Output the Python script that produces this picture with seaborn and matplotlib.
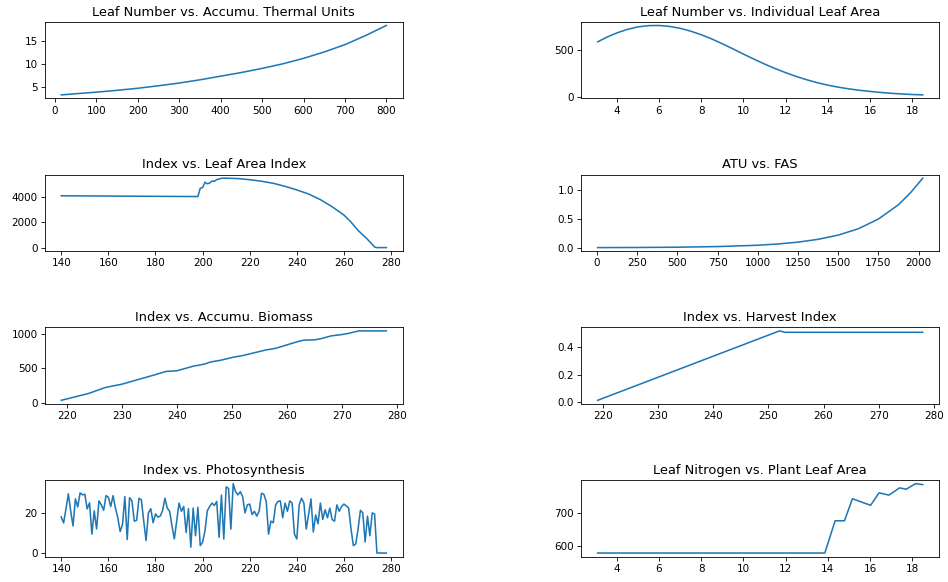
import matplotlib
matplotlib.use("Agg")
import matplotlib.pyplot as plt
import seaborn as sns

# Panel 1: Leaf Number vs. Accumu. Thermal Units
tu = [15, 50, 100, 150, 200, 250, 300, 350, 400, 450, 500, 550, 600, 650, 700, 750, 800]
leaf_number = [3.2, 3.45, 3.8, 4.2, 4.65, 5.2, 5.8, 6.5, 7.3, 8.1, 9.0, 10.0, 11.2, 12.6, 14.2, 16.2, 18.4]

# Panel 2: Leaf Number vs. Individual Leaf Area
ln2 = [3.1, 3.5, 4, 4.5, 5, 5.5, 6, 6.5, 7, 7.5, 8, 8.5, 9, 9.5, 10, 10.5,
       11, 11.5, 12, 12.5, 13, 13.5, 14, 14.5, 15, 15.5, 16, 16.5, 17, 17.5, 18, 18.5]
ind_leaf_area = [585, 632, 680, 718, 745, 758, 760, 750, 730, 700, 662, 617, 566, 512, 456, 402,
                 350, 302, 258, 218, 182, 151, 125, 103, 85, 70, 58, 47, 38, 31, 25, 21]

# Panel 3: Index vs. Leaf Area Index
lai_day = [140, 198, 199, 200, 201, 202, 203, 204, 205, 206, 207, 208, 210, 215, 220, 225,
           230, 235, 240, 245, 250, 255, 260, 263, 266, 270, 273, 274, 278]
lai = [4060, 4000, 4650, 4700, 5120, 5000, 5060, 5220, 5190, 5330, 5380, 5430, 5440, 5410, 5320, 5200,
       5040, 4800, 4520, 4200, 3760, 3200, 2550, 2000, 1350, 650, 50, 0, 0]

# Panel 4: ATU vs. FAS
atu = [5, 250, 500, 750, 1000, 1125, 1250, 1375, 1500, 1625, 1750, 1875, 1950, 2025]
fas = [0.002, 0.004, 0.009, 0.02, 0.043, 0.065, 0.097, 0.146, 0.22, 0.33, 0.5, 0.75, 0.96, 1.21]

# Panel 5: Index vs. Accumu. Biomass
bio_day = [219, 224, 227, 230, 233, 236, 238, 240, 243, 245, 246, 248, 250, 252, 253, 256, 258,
           260, 262, 263, 265, 266, 268, 270, 271, 273, 278]
biomass = [35, 135, 220, 268, 336, 404, 452, 462, 529, 558, 587, 615, 654, 683, 702, 760, 788,
           837, 885, 904, 909, 923, 966, 986, 1000, 1038, 1038]

# Panel 6: Index vs. Harvest Index
hi_day = [219, 252, 253, 278]
harvest_index = [0.015, 0.513, 0.503, 0.503]

# Panel 7: Index vs. Photosynthesis (days 140..278)
ps_day = list(range(140, 279))
photosynthesis = [
    18, 15, 22, 29.5, 21, 13.5, 27, 23, 30, 29,
    29.3, 22, 25, 9.4, 21, 12, 26, 24, 21.3, 28.6,
    27.8, 23.2, 28.6, 22.4, 17.6, 10.7, 14.3, 28.1, 6.7, 27.6,
    26, 15.9, 16.3, 27.3, 26.5, 16, 6.2, 20, 22.1, 15.1,
    19.5, 17.9, 18.4, 21.1, 27.3, 22.4, 20.8, 13.5, 7, 15.9,
    24.9, 20.8, 23.2, 10.2, 22.1, 2.9, 22.4, 8.6, 22.8, 3.7,
    5.4, 11, 21.1, 23.2, 24.9, 23.7, 25.7, 7.8, 28.9, 7,
    33, 32.2, 11.9, 34.6, 30.6, 29, 30.6, 28.1, 20, 24,
    24.4, 19.2, 20.8, 18.4, 20.8, 29.8, 29.3, 25.7, 9.4, 15.9,
    15.1, 24, 25.7, 26, 17.6, 24.9, 20.8, 26, 24.9, 9.4,
    7, 24, 27.3, 24.9, 11.9, 19.2, 27, 10.5, 19, 14.6,
    24.9, 16.7, 21.6, 17.6, 22.4, 16.7, 15.9, 24, 20.8, 23.2,
    24.4, 23.5, 22.4, 12, 3.7, 4.5, 12, 21.3, 20, 5.5,
    18.4, 8.6, 20, 19.5, 0, 0, 0, 0, 0,
]

# Panel 8: Leaf Nitrogen vs. Plant Leaf Area
pla = [3.1, 13.86, 14.35, 14.79, 15.17, 16.03, 16.43, 16.9, 17.4, 17.72, 18.16, 18.5]
leaf_nitrogen = [578, 578, 676, 676, 743, 723, 761, 754, 776, 772, 789, 786]

titles = [
    "Leaf Number vs. Accumu. Thermal Units",
    "Leaf Number vs. Individual Leaf Area",
    "Index vs. Leaf Area Index",
    "ATU vs. FAS",
    "Index vs. Accumu. Biomass",
    "Index vs. Harvest Index",
    "Index vs. Photosynthesis",
    "Leaf Nitrogen vs. Plant Leaf Area",
]
series = [
    (tu, leaf_number),
    (ln2, ind_leaf_area),
    (lai_day, lai),
    (atu, fas),
    (bio_day, biomass),
    (hi_day, harvest_index),
    (ps_day, photosynthesis),
    (pla, leaf_nitrogen),
]

DPI = 75
fig, axes = plt.subplots(4, 2, figsize=(948 / DPI, 582 / DPI), dpi=DPI)
fig.subplots_adjust(left=45 / 948, right=939 / 948, top=1 - 22 / 582, bottom=1 - 556.5 / 582,
                    wspace=0.50, hspace=1.0)

for ax, (xs, ys), title in zip(axes.flat, series, titles):
    sns.lineplot(x=xs, y=ys, ax=ax, color="#1f77b4", linewidth=1.5)
    ax.set_title(title, fontsize=12.5)
    ax.set_xlabel("")
    ax.set_ylabel("")

fig.savefig("out.png", dpi=DPI)
